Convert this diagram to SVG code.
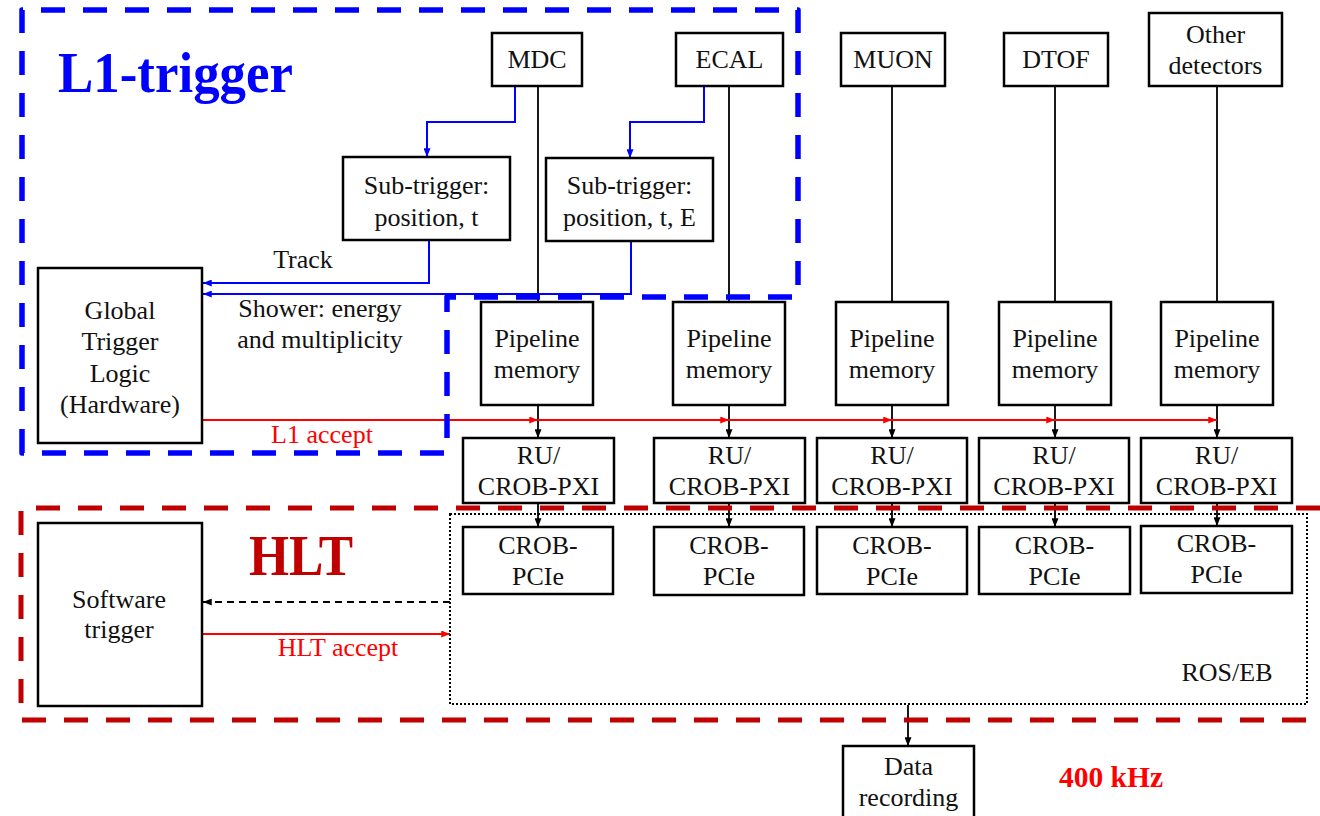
<svg xmlns="http://www.w3.org/2000/svg" width="1320" height="816" viewBox="0 0 1320 816">
  <defs>
    <style>
      .box { fill: #ffffff; stroke: #000000; stroke-width: 2.5; }
      .t { font-family: "Liberation Serif", "Times New Roman", serif; font-size: 26px; fill: #111111; text-anchor: middle; }
      .lbl { font-family: "Liberation Serif", "Times New Roman", serif; font-size: 26px; text-anchor: middle; }
      .wire { fill: none; stroke: #000000; stroke-width: 1.8; }
      .blue { fill: none; stroke: #0000ff; stroke-width: 2; }
      .red { fill: none; stroke: #ff0000; stroke-width: 2; }
      .title { font-family: "Liberation Serif", "Times New Roman", serif; font-weight: bold; }
    </style>
    <marker id="arrBlack" viewBox="0 0 10 8" refX="10" refY="4" markerWidth="9" markerHeight="7" markerUnits="userSpaceOnUse" orient="auto">
      <path d="M0,0 L10,4 L0,8 Z" fill="#000000"/>
    </marker>
    <marker id="arrBlue" viewBox="0 0 10 8" refX="10" refY="4" markerWidth="9" markerHeight="7" markerUnits="userSpaceOnUse" orient="auto">
      <path d="M0,0 L10,4 L0,8 Z" fill="#0000ff"/>
    </marker>
    <marker id="arrRed" viewBox="0 0 10 8" refX="10" refY="4" markerWidth="9" markerHeight="7" markerUnits="userSpaceOnUse" orient="auto">
      <path d="M0,0 L10,4 L0,8 Z" fill="#ff0000"/>
    </marker>
  </defs>

  <rect x="0" y="0" width="1320" height="816" fill="#ffffff"/>

  <!-- connectors -->
  <g id="connectors">
    <!-- detector readout lines to pipeline memories -->
    <path class="wire" d="M538,86 V302"/>
    <path class="wire" d="M729,86 V302"/>
    <path class="wire" d="M892,86 V302"/>
    <path class="wire" d="M1055,86 V302"/>
    <path class="wire" d="M1217,86 V302"/>

    <!-- trigger feeds -->
    <path class="blue" d="M515,86 V122 H427 V157" marker-end="url(#arrBlue)"/>
    <path class="blue" d="M704,86 V122 H630 V158" marker-end="url(#arrBlue)"/>
    <path class="blue" d="M429,240 V283 H203" marker-end="url(#arrBlue)"/>
    <path class="blue" d="M631,241 V294 H203" marker-end="url(#arrBlue)"/>

    <!-- pipeline to RU -->
    <path class="wire" d="M538,405 V438" marker-end="url(#arrBlack)"/>
    <path class="wire" d="M729,405 V438" marker-end="url(#arrBlack)"/>
    <path class="wire" d="M892,405 V438" marker-end="url(#arrBlack)"/>
    <path class="wire" d="M1055,405 V438" marker-end="url(#arrBlack)"/>
    <path class="wire" d="M1217,405 V438" marker-end="url(#arrBlack)"/>

    <!-- RU to CROB-PCIe -->
    <path class="wire" d="M538,503 V527" marker-end="url(#arrBlack)"/>
    <path class="wire" d="M729,503 V527" marker-end="url(#arrBlack)"/>
    <path class="wire" d="M892,503 V527" marker-end="url(#arrBlack)"/>
    <path class="wire" d="M1055,503 V527" marker-end="url(#arrBlack)"/>
    <path class="wire" d="M1217,503 V526" marker-end="url(#arrBlack)"/>

    <!-- L1 accept bus -->
    <path class="red" d="M203,420 H538" marker-end="url(#arrRed)"/>
    <path class="red" d="M538,420 H729" marker-end="url(#arrRed)"/>
    <path class="red" d="M729,420 H892" marker-end="url(#arrRed)"/>
    <path class="red" d="M892,420 H1055" marker-end="url(#arrRed)"/>
    <path class="red" d="M1055,420 H1217" marker-end="url(#arrRed)"/>

    <!-- HLT loop -->
    <path class="wire" d="M450,602 H203" stroke-dasharray="7 5" marker-end="url(#arrBlack)"/>
    <path class="red" d="M203,634 H450" marker-end="url(#arrRed)"/>

    <!-- event builder to storage -->
    <path class="wire" d="M908,705 V746" marker-end="url(#arrBlack)"/>

    <text class="lbl" x="303" y="268" fill="#111111">Track</text>
    <text class="lbl" x="320" y="317" fill="#111111">Shower: energy</text>
    <text class="lbl" x="320" y="348" fill="#111111">and multiplicity</text>
    <text class="lbl" x="322" y="443" fill="#ff0000">L1 accept</text>
    <text class="lbl" x="338" y="656" fill="#ff0000">HLT accept</text>
  </g>

  <!-- detectors -->
  <g id="mdc">
    <rect class="box" x="492" y="33" width="90" height="53"/>
    <text class="t" x="537" y="68">MDC</text>
  </g>
  <g id="ecal">
    <rect class="box" x="676" y="33" width="107" height="53"/>
    <text class="t" x="729.5" y="68">ECAL</text>
  </g>
  <g id="muon">
    <rect class="box" x="841" y="33" width="104" height="53"/>
    <text class="t" x="893" y="68">MUON</text>
  </g>
  <g id="dtof">
    <rect class="box" x="1004" y="33" width="104" height="53"/>
    <text class="t" x="1056" y="68">DTOF</text>
  </g>
  <g id="other-detectors">
    <rect class="box" x="1149" y="13" width="133" height="73"/>
    <text class="t" x="1215.5" y="43">Other</text>
    <text class="t" x="1215.5" y="74">detectors</text>
  </g>

  <!-- sub-triggers -->
  <g id="subtrigger-mdc">
    <rect class="box" x="343" y="157" width="167" height="83"/>
    <text class="t" x="426.5" y="194">Sub-trigger:</text>
    <text class="t" x="426.5" y="226">position, t</text>
  </g>
  <g id="subtrigger-ecal">
    <rect class="box" x="546" y="158" width="167" height="83"/>
    <text class="t" x="629.5" y="194">Sub-trigger:</text>
    <text class="t" x="629.5" y="226">position, t, E</text>
  </g>

  <!-- global trigger logic -->
  <g id="global-trigger">
    <rect class="box" x="38" y="268" width="164" height="175"/>
    <text class="t" x="120" y="319">Global</text>
    <text class="t" x="120" y="350">Trigger</text>
    <text class="t" x="120" y="382">Logic</text>
    <text class="t" x="120" y="413">(Hardware)</text>
  </g>

  <!-- pipeline memories -->
  <g id="pipeline-1">
    <rect class="box" x="481" y="302" width="112" height="103"/>
    <text class="t" x="537" y="347">Pipeline</text>
    <text class="t" x="537" y="378">memory</text>
  </g>
  <g id="pipeline-2">
    <rect class="box" x="673" y="302" width="112" height="103"/>
    <text class="t" x="729" y="347">Pipeline</text>
    <text class="t" x="729" y="378">memory</text>
  </g>
  <g id="pipeline-3">
    <rect class="box" x="836" y="302" width="112" height="103"/>
    <text class="t" x="892" y="347">Pipeline</text>
    <text class="t" x="892" y="378">memory</text>
  </g>
  <g id="pipeline-4">
    <rect class="box" x="999" y="302" width="112" height="103"/>
    <text class="t" x="1055" y="347">Pipeline</text>
    <text class="t" x="1055" y="378">memory</text>
  </g>
  <g id="pipeline-5">
    <rect class="box" x="1161" y="302" width="112" height="103"/>
    <text class="t" x="1217" y="347">Pipeline</text>
    <text class="t" x="1217" y="378">memory</text>
  </g>

  <!-- readout units -->
  <g id="ru-1">
    <rect class="box" x="463" y="438" width="151" height="65"/>
    <text class="t" x="538.5" y="464">RU/</text>
    <text class="t" x="538.5" y="495">CROB-PXI</text>
  </g>
  <g id="ru-2">
    <rect class="box" x="654" y="438" width="151" height="65"/>
    <text class="t" x="729.5" y="464">RU/</text>
    <text class="t" x="729.5" y="495">CROB-PXI</text>
  </g>
  <g id="ru-3">
    <rect class="box" x="817" y="438" width="150" height="65"/>
    <text class="t" x="892" y="464">RU/</text>
    <text class="t" x="892" y="495">CROB-PXI</text>
  </g>
  <g id="ru-4">
    <rect class="box" x="979" y="438" width="150" height="65"/>
    <text class="t" x="1054" y="464">RU/</text>
    <text class="t" x="1054" y="495">CROB-PXI</text>
  </g>
  <g id="ru-5">
    <rect class="box" x="1141" y="438" width="151" height="65"/>
    <text class="t" x="1216.5" y="464">RU/</text>
    <text class="t" x="1216.5" y="495">CROB-PXI</text>
  </g>

  <!-- ROS / event builder -->
  <g id="ros-eb">
    <rect x="450" y="514" width="857" height="190" fill="none" stroke="#000000" stroke-width="2" stroke-dasharray="2 2"/>
    <text class="t" x="1227" y="681">ROS/EB</text>
  </g>

  <g id="crob-pcie-1">
    <rect class="box" x="463" y="527" width="150" height="67"/>
    <text class="t" x="538" y="554">CROB-</text>
    <text class="t" x="538" y="585">PCIe</text>
  </g>
  <g id="crob-pcie-2">
    <rect class="box" x="654" y="527" width="150" height="68"/>
    <text class="t" x="729" y="554">CROB-</text>
    <text class="t" x="729" y="585">PCIe</text>
  </g>
  <g id="crob-pcie-3">
    <rect class="box" x="817" y="527" width="150" height="67"/>
    <text class="t" x="892" y="554">CROB-</text>
    <text class="t" x="892" y="585">PCIe</text>
  </g>
  <g id="crob-pcie-4">
    <rect class="box" x="979" y="527" width="151" height="67"/>
    <text class="t" x="1054.5" y="554">CROB-</text>
    <text class="t" x="1054.5" y="585">PCIe</text>
  </g>
  <g id="crob-pcie-5">
    <rect class="box" x="1141" y="526" width="151" height="67"/>
    <text class="t" x="1216.5" y="552">CROB-</text>
    <text class="t" x="1216.5" y="583">PCIe</text>
  </g>

  <!-- high level trigger -->
  <g id="software-trigger">
    <rect class="box" x="38" y="523" width="164" height="183"/>
    <text class="t" x="119" y="608">Software</text>
    <text class="t" x="119" y="638">trigger</text>
  </g>

  <!-- storage -->
  <g id="data-recording">
    <rect class="box" x="843" y="746" width="131" height="80"/>
    <text class="t" x="908.5" y="775">Data</text>
    <text class="t" x="908.5" y="806">recording</text>
  </g>

  <!-- trigger level regions -->
  <g id="l1-region">
    <path d="M22,453 V10 H798 V297 H447 V453 Z" fill="none" stroke="#0000ff" stroke-width="5.5" stroke-dasharray="24 18" stroke-linejoin="round"/>
    <text class="title" x="58" y="92" font-size="57" fill="#0000ff" textLength="235" lengthAdjust="spacingAndGlyphs">L1-trigger</text>
  </g>
  <g id="hlt-region">
    <path d="M1320,508 H21 V720 H1306" fill="none" stroke="#c00000" stroke-width="5" stroke-dasharray="24 18" stroke-linejoin="round"/>
    <text class="title" x="249" y="575" font-size="56" fill="#c00000" textLength="104" lengthAdjust="spacingAndGlyphs">HLT</text>
  </g>

  <text class="title" x="1059" y="787" font-size="29" fill="#ff0000" textLength="104" lengthAdjust="spacingAndGlyphs">400 kHz</text>
</svg>
